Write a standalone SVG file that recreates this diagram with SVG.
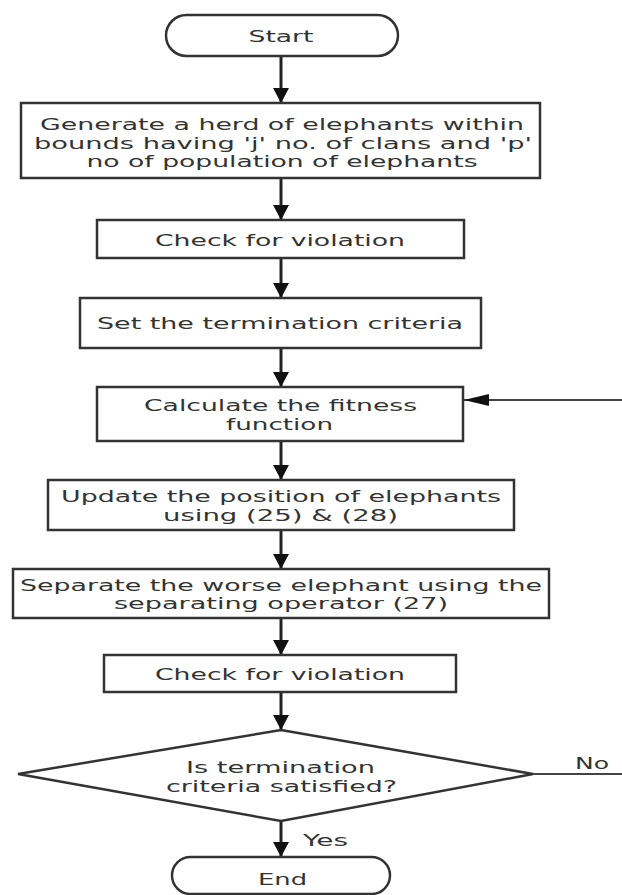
<svg xmlns="http://www.w3.org/2000/svg" width="622" height="895" viewBox="0 0 622 895">
  <style>
    .box { fill: #ffffff; stroke: #333333; stroke-width: 2.5; }
    .lbl { font-family: "DejaVu Sans", Verdana, sans-serif; font-size: 16px; fill: #333333; text-anchor: middle; lengthAdjust: spacingAndGlyphs; }
    .con { fill: none; stroke: #222222; stroke-width: 3; }
    .thin { fill: none; stroke: #444444; stroke-width: 2; }
  </style>
  <defs>
    <marker id="arrowV" markerUnits="userSpaceOnUse" viewBox="0 0 15 16" markerWidth="15" markerHeight="16" refX="15" refY="8" orient="auto">
      <path d="M0,0 L15,8 L0,16 Z" fill="#111111"/>
    </marker>
    <marker id="arrowH" markerUnits="userSpaceOnUse" viewBox="0 0 25 12" markerWidth="25" markerHeight="12" refX="25" refY="6" orient="auto">
      <path d="M0,0 L25,6 L0,12 Z" fill="#111111"/>
    </marker>
  </defs>
  <rect x="0" y="0" width="622" height="895" fill="#ffffff"/>

  <g id="connectors">
    <path class="con" d="M281,56 V103" marker-end="url(#arrowV)"/>
    <path class="con" d="M281,178 V220" marker-end="url(#arrowV)"/>
    <path class="con" d="M281,258 V298" marker-end="url(#arrowV)"/>
    <path class="con" d="M281,348 V387" marker-end="url(#arrowV)"/>
    <path class="con" d="M281,441 V480" marker-end="url(#arrowV)"/>
    <path class="con" d="M281,530 V569" marker-end="url(#arrowV)"/>
    <path class="con" d="M281,618 V655" marker-end="url(#arrowV)"/>
    <path class="con" d="M281,692 V730" marker-end="url(#arrowV)"/>
    <path class="con" d="M281,821 V857" marker-end="url(#arrowV)"/>
    <path class="thin" d="M533,774 H626 V400 H464" marker-end="url(#arrowH)"/>
    <text class="lbl" x="592" y="769" textLength="34" lengthAdjust="spacingAndGlyphs">No</text>
    <text class="lbl" x="325.5" y="846" textLength="45" lengthAdjust="spacingAndGlyphs">Yes</text>
  </g>

  <g id="start">
    <rect class="box" x="166" y="15" width="232" height="41" rx="20.5" ry="20.5"/>
    <text class="lbl" x="281" y="42" textLength="65" lengthAdjust="spacingAndGlyphs">Start</text>
  </g>

  <g id="generate">
    <rect class="box" x="21" y="103" width="519" height="75"/>
    <text class="lbl" x="282" y="130" textLength="484" lengthAdjust="spacingAndGlyphs">Generate a herd of elephants within</text>
    <text class="lbl" x="283" y="148.5" textLength="498" lengthAdjust="spacingAndGlyphs">bounds having 'j' no. of clans and 'p'</text>
    <text class="lbl" x="282" y="167" textLength="391" lengthAdjust="spacingAndGlyphs">no of population of elephants</text>
  </g>

  <g id="check1">
    <rect class="box" x="97" y="220" width="367" height="38"/>
    <text class="lbl" x="280" y="245.5" textLength="250" lengthAdjust="spacingAndGlyphs">Check for violation</text>
  </g>

  <g id="set">
    <rect class="box" x="80" y="298" width="401" height="50"/>
    <text class="lbl" x="280" y="328.5" textLength="366" lengthAdjust="spacingAndGlyphs">Set the termination criteria</text>
  </g>

  <g id="calculate">
    <rect class="box" x="97" y="387" width="366" height="54"/>
    <text class="lbl" x="280.5" y="410.5" textLength="273" lengthAdjust="spacingAndGlyphs">Calculate the fitness</text>
    <text class="lbl" x="279.5" y="430" textLength="107" lengthAdjust="spacingAndGlyphs">function</text>
  </g>

  <g id="update">
    <rect class="box" x="48" y="480" width="466" height="50"/>
    <text class="lbl" x="281" y="502" textLength="440" lengthAdjust="spacingAndGlyphs">Update the position of elephants</text>
    <text class="lbl" x="280.5" y="521" textLength="235" lengthAdjust="spacingAndGlyphs">using (25) &amp; (28)</text>
  </g>

  <g id="separate">
    <rect class="box" x="13" y="569" width="536" height="49"/>
    <text class="lbl" x="281" y="590.5" textLength="522" lengthAdjust="spacingAndGlyphs">Separate the worse elephant using the</text>
    <text class="lbl" x="281" y="608.5" textLength="334" lengthAdjust="spacingAndGlyphs">separating operator (27)</text>
  </g>

  <g id="check2">
    <rect class="box" x="104" y="655" width="352" height="37"/>
    <text class="lbl" x="280" y="679.5" textLength="250" lengthAdjust="spacingAndGlyphs">Check for violation</text>
  </g>

  <g id="decision">
    <polygon class="box" points="281,730 533,774 281,821 18,774"/>
    <text class="lbl" x="280.5" y="772.5" textLength="189" lengthAdjust="spacingAndGlyphs">Is termination</text>
    <text class="lbl" x="281.5" y="792" textLength="231" lengthAdjust="spacingAndGlyphs">criteria satisfied?</text>
  </g>

  <g id="end">
    <rect class="box" x="172" y="857" width="218" height="37" rx="18.5" ry="18.5"/>
    <text class="lbl" x="282.5" y="884.5" textLength="49" lengthAdjust="spacingAndGlyphs">End</text>
  </g>
</svg>
